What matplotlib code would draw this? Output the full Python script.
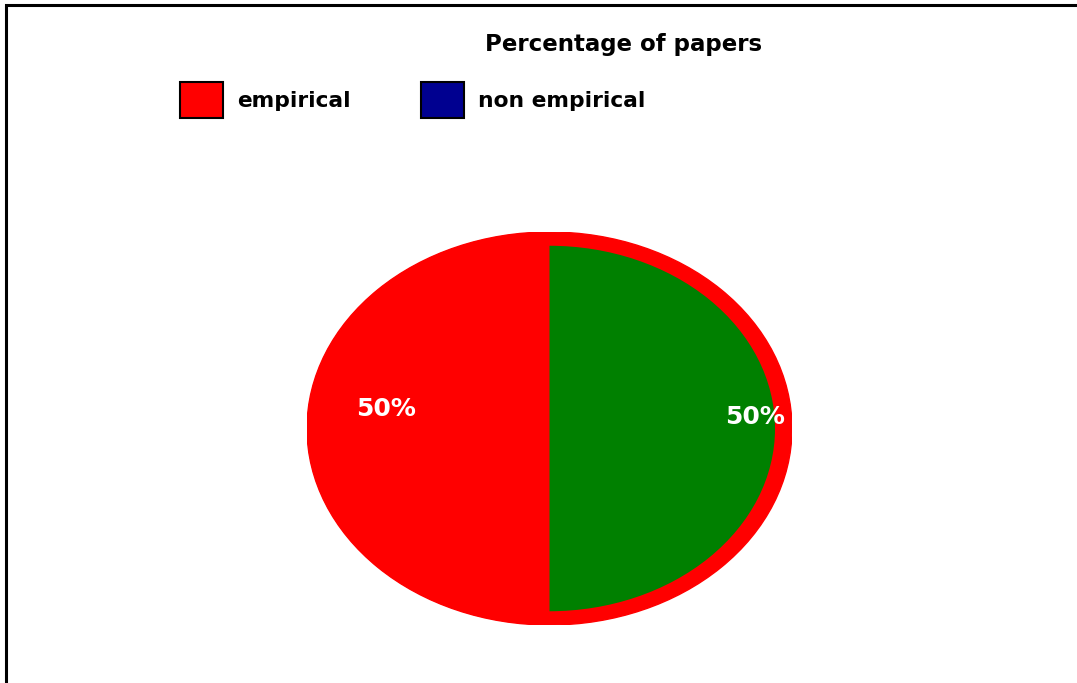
import matplotlib
matplotlib.use("Agg")
import matplotlib.pyplot as plt
from matplotlib.patches import Patch, Rectangle, Ellipse

plt.rcParams['font.family'] = ['DejaVu Sans']

# paper counts by type (percent)
labels = ['empirical', 'non empirical']
shares = [50, 50]
legend_colors = ['#ff0000', '#000090']
slice_colors = ['#ff0000', '#008000']
title = 'Percentage of papers'

W, H = 1077, 683
fig = plt.figure(figsize=(W / 100, H / 100), dpi=100)

# outer frame, runs off the right and bottom edges
fig.patches.append(Rectangle((6 / W, -0.05), 1.1, 1 - 5 / H + 0.05,
                             transform=fig.transFigure, fill=False,
                             edgecolor='black', linewidth=2.2))

ax = fig.add_axes([307 / W, 58 / H, 485 / W, 393 / H])
ax.axis('off')

# red rim behind the slices
ax.add_patch(Ellipse((0, 0), 2, 2, color=slice_colors[0], zorder=0))

wedges, _, pct = ax.pie(shares, colors=slice_colors, startangle=90,
                        counterclock=True, autopct='%d%%',
                        textprops=dict(color='white', fontsize=18,
                                       fontweight='bold'))
ax.set_aspect('auto')
ax.set_xlim(-1, 1)
ax.set_ylim(-1, 1)
wedges[1].set_radius(0.93)

pct[0].set_position((-0.674, 0.10))
pct[1].set_position((0.847, 0.06))

fig.text(624 / W, 1 - 44 / H, title, ha='center', va='center',
         fontsize=16.5, fontweight='bold')

handles = [Patch(facecolor=c, edgecolor='black', linewidth=1.5)
           for c in legend_colors]
fig.legend(handles, labels, ncol=2, loc='center left',
           bbox_to_anchor=(180 / W, 1 - 100 / H), frameon=False,
           prop=dict(size=15.7, weight='bold'),
           handlelength=1.95, handleheight=2.2, handletextpad=0.65,
           columnspacing=3.25, borderaxespad=0, borderpad=0)

fig.savefig('out.png', dpi=100)
